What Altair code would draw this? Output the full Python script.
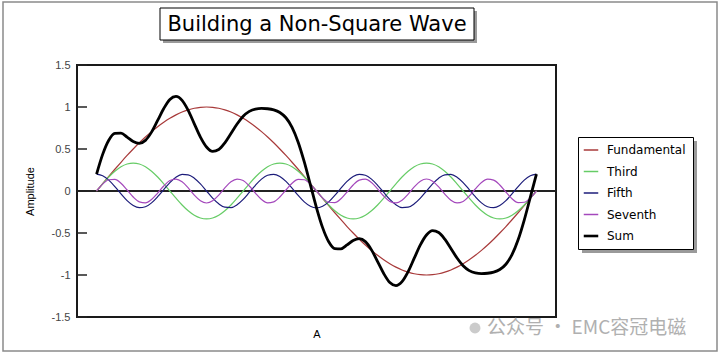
import altair as alt
import pandas as pd

degrees = list(range(0, 361, 5))

fundamental = [
    0, .087, .174, .259, .342, .423, .500, .574, .643, .707, .766, .819, .866, .906, .940, .966, .985, .996, 1.000,
    .996, .985, .966, .940, .906, .866, .819, .766, .707, .643, .574, .500, .423, .342, .259, .174, .087, 0,
    -.087, -.174, -.259, -.342, -.423, -.500, -.574, -.643, -.707, -.766, -.819, -.866, -.906, -.940, -.966, -.985, -.996, -1.000,
    -.996, -.985, -.966, -.940, -.906, -.866, -.819, -.766, -.707, -.643, -.574, -.500, -.423, -.342, -.259, -.174, -.087, 0,
]

third = [
    0, .086, .167, .236, .289, .322, .333, .322, .289, .236, .167, .086,
    0, -.086, -.167, -.236, -.289, -.322, -.333, -.322, -.289, -.236, -.167, -.086,
    0, .086, .167, .236, .289, .322, .333, .322, .289, .236, .167, .086,
    0, -.086, -.167, -.236, -.289, -.322, -.333, -.322, -.289, -.236, -.167, -.086,
    0, .086, .167, .236, .289, .322, .333, .322, .289, .236, .167, .086,
    0, -.086, -.167, -.236, -.289, -.322, -.333, -.322, -.289, -.236, -.167, -.086,
    0,
]

fifth = [
    .200, .181, .129, .052, -.035, -.115, -.173, -.199, -.188, -.141, -.068, .017, .100, .164, .197, .193, .153, .085,
    0, -.085, -.153, -.193, -.197, -.164, -.100, -.017, .068, .141, .188, .199, .173, .115, .035, -.052, -.129, -.181,
    -.200,
    -.181, -.129, -.052, .035, .115, .173, .199, .188, .141, .068, -.017, -.100, -.164, -.197, -.193, -.153, -.085,
    0, .085, .153, .193, .197, .164, .100, .017, -.068, -.141, -.188, -.199, -.173, -.115, -.035, .052, .129, .181,
    .200,
]

seventh = [
    0, .082, .134, .138, .092, .012, -.071, -.129, -.141, -.101, -.025, .060, .124, .142, .109, .037, -.049, -.117,
    -.143, -.117, -.049, .037, .109, .142, .124, .060, -.025, -.101, -.141, -.129, -.071, .012, .092, .138, .134, .082,
    0,
    -.082, -.134, -.138, -.092, -.012, .071, .129, .141, .101, .025, -.060, -.124, -.142, -.109, -.037, .049, .117,
    .143, .117, .049, -.037, -.109, -.142, -.124, -.060, .025, .101, .141, .129, .071, -.012, -.092, -.138, -.134, -.082,
    0,
]

# the "Sum" series is the sum of the four harmonics above
total = [round(a + b + c + d, 3) for a, b, c, d in zip(fundamental, third, fifth, seventh)]

series_names = ["Fundamental", "Third", "Fifth", "Seventh", "Sum"]
series_colors = ["#a83a3a", "#66cc66", "#1c1c7a", "#a448bc", "#000000"]
y_ticks = [-1.5, -1, -0.5, 0, 0.5, 1, 1.5]

title_text = "Building a Non-Square Wave"
watermark = "公众号 · EMC容冠电磁"

rows = []
for name, vals in zip(series_names, [fundamental, third, fifth, seventh, total]):
    for d, v in zip(degrees, vals):
        rows.append({"deg": d, "value": v, "series": name})
df = pd.DataFrame(rows)

# ---------------- chart ----------------
W, H = 479, 252
FONT = "Liberation Sans"

xscale = alt.Scale(domain=[-16, 376], nice=False, zero=False)
yscale = alt.Scale(domain=[-1.5, 1.5], nice=False)
xaxis = alt.Axis(title="A", ticks=False, labels=False, domain=False, grid=False,
                 titleFont=FONT, titleFontSize=11, titleFontWeight="normal",
                 titlePadding=11, titleColor="black")
yaxis = alt.Axis(title="Amplitude", values=y_ticks, ticks=False, domain=False, grid=False,
                 labelExpr="datum.value + ''", labelFont=FONT, labelFontSize=11,
                 labelColor="#444444", labelPadding=7,
                 titleFont=FONT, titleFontSize=11, titleFontWeight="normal",
                 titleColor="black", titlePadding=16)

legend = alt.Legend(title=None, orient="none", legendX=501, legendY=72,
                    symbolType="stroke", symbolSize=210,
                    symbolStrokeWidth=alt.ExprRef("datum.value === 'Sum' ? 2.6 : 1.5"),
                    labelFont="DejaVu Sans", labelFontSize=12,
                    labelColor="black", padding=7, rowPadding=9.5, labelOffset=10,
                    strokeColor="black", fillColor="white")

color = alt.Color("series:N", scale=alt.Scale(domain=series_names, range=series_colors), legend=legend)

one = alt.Data(values=[{}])

outer = alt.Chart(one).mark_rect(clip=False, fillOpacity=0, stroke="#8a8a8a", strokeWidth=1.5).encode(
    x=alt.value(-74), x2=alt.value(640), y=alt.value(-63), y2=alt.value(286))

title_shadow = alt.Chart(one).mark_rect(clip=False, fill="#9a9a9a").encode(
    x=alt.value(86), x2=alt.value(400), y=alt.value(-54), y2=alt.value(-22))
title_box = alt.Chart(one).mark_rect(clip=False, fill="white", stroke="black", strokeWidth=1).encode(
    x=alt.value(83), x2=alt.value(397), y=alt.value(-57), y2=alt.value(-25))
title = alt.Chart(one).mark_text(clip=False, font="DejaVu Sans", fontSize=21, align="center",
                                 baseline="alphabetic", color="black", text=title_text).encode(
    x=alt.value(240), y=alt.value(-34))

legend_shadow = alt.Chart(one).mark_rect(clip=False, fill="#9a9a9a").encode(
    x=alt.value(505), x2=alt.value(620), y=alt.value(76), y2=alt.value(188))

zero = alt.Chart(one).mark_rule(color="#222222", strokeWidth=2).encode(
    y=alt.Y(datum=0, scale=yscale, axis=yaxis))

ticks = alt.Chart(pd.DataFrame({"t": y_ticks})).mark_rule(color="#222222", strokeWidth=1.5).encode(
    y=alt.Y("t:Q", scale=yscale, axis=yaxis), x=alt.value(0), x2=alt.value(10))

comps = alt.Chart(df).transform_filter(alt.datum.series != "Sum").mark_line(
    interpolate="monotone", strokeWidth=1.2).encode(
    x=alt.X("deg:Q", scale=xscale, axis=xaxis),
    y=alt.Y("value:Q", scale=yscale, axis=yaxis),
    color=color)

sumline = alt.Chart(df).transform_filter(alt.datum.series == "Sum").mark_line(
    interpolate="monotone", strokeWidth=2.8).encode(
    x=alt.X("deg:Q", scale=xscale, axis=xaxis),
    y=alt.Y("value:Q", scale=yscale, axis=yaxis),
    color=color)

mark_icon = alt.Chart(one).mark_point(clip=False, filled=True, color="#b5b5b5", size=120, shape="circle").encode(
    x=alt.value(398), y=alt.value(263))
wm = alt.Chart(one).mark_text(clip=False, font="Noto Sans CJK SC", fontSize=19, align="left",
                              baseline="middle", color="#b0b0b0", text=watermark).encode(
    x=alt.value(410), y=alt.value(263))

chart = alt.layer(
    outer, title_shadow, title_box, title, legend_shadow, zero, ticks, comps, sumline, mark_icon, wm
).properties(
    width=W, height=H,
    autosize=alt.AutoSizeParams(type="none"),
    padding={"left": 77, "top": 65, "right": 164, "bottom": 38},
    background="white",
).configure_view(stroke="#1a1a1a", strokeWidth=2)

chart.save("out.html", embed_options={"renderer": "svg", "actions": False})
